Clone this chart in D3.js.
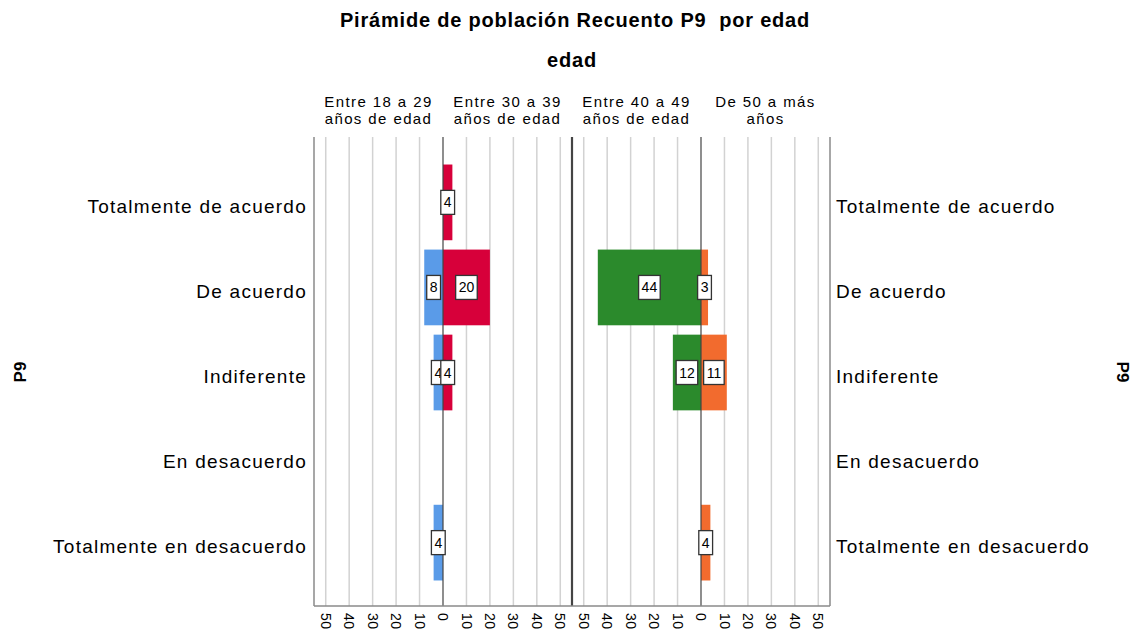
<!DOCTYPE html>
<html>
<head>
<meta charset="utf-8" />
<title>Pirámide de población</title>
<script src="https://cdn.jsdelivr.net/npm/d3@7"></script>
<style>
    body { margin: 0; background: #fff; }
    text { font-family: "Liberation Sans", Arial, sans-serif; fill: #000; }
</style>
</head>
<body>
<script>
    // categories (rows) and the four age groups
    var categories = ["Totalmente de acuerdo", "De acuerdo", "Indiferente", "En desacuerdo", "Totalmente en desacuerdo"]
    var groupLabels = [
        ["Entre 18 a 29", "años de edad"],
        ["Entre 30 a 39", "años de edad"],
        ["Entre 40 a 49", "años de edad"],
        ["De 50 a más", "años"]
    ]
    var v18a29 = [0, 8, 4, 0, 4]
    var v30a39 = [4, 20, 4, 0, 0]
    var v40a49 = [0, 44, 12, 0, 0]
    var v50mas = [0, 3, 11, 0, 4]
    var tickValues = [-50, -40, -30, -20, -10, 0, 10, 20, 30, 40, 50]

    var colors = ["#5a9be8", "#d7003a", "#2b8a2c", "#f26b2e"]

    var W = 1137, H = 634
    var plotTop = 137, plotBottom = 606

    var svg = d3.select("body").append("svg").attr("width", W).attr("height", H)

    var xLeft = d3.scaleLinear().domain([-55, 55]).range([314, 572])
    var xRight = d3.scaleLinear().domain([-55, 55]).range([572, 830])
    var y = d3.scaleBand().domain(categories).range([plotTop + 2, plotBottom]).paddingInner(0.11).paddingOuter(0.3)

    // title
    svg.append("text").attr("x", 575).attr("y", 27).attr("text-anchor", "middle")
        .attr("xml:space", "preserve")
        .style("font-size", "20px").style("font-weight", "bold").style("letter-spacing", "0.8px")
        .text("Pirámide de población Recuento P9  por edad")
    svg.append("text").attr("x", 572).attr("y", 67).attr("text-anchor", "middle")
        .style("font-size", "20px").style("font-weight", "bold").style("letter-spacing", "0.8px")
        .text("edad")

    // gridlines
    var grid = svg.append("g")
    ;[xLeft, xRight].forEach(function (sc) {
        grid.selectAll(null).data(tickValues.filter(d => d != 0)).enter().append("line")
            .attr("x1", d => sc(d)).attr("x2", d => sc(d))
            .attr("y1", plotTop).attr("y2", plotBottom)
            .style("stroke", "#d2d2d2").style("stroke-width", 1.5)
    })

    // bars
    var series = [
        { vals: v18a29, sc: xLeft, dir: -1, color: colors[0] },
        { vals: v30a39, sc: xLeft, dir: 1, color: colors[1] },
        { vals: v40a49, sc: xRight, dir: -1, color: colors[2] },
        { vals: v50mas, sc: xRight, dir: 1, color: colors[3] }
    ]
    series.forEach(function (s) {
        var rows = s.vals.map((v, i) => ({ cat: categories[i], v: v })).filter(d => d.v > 0)
        svg.append("g").selectAll("rect").data(rows).enter().append("rect")
            .attr("x", d => s.dir < 0 ? s.sc(-d.v) : s.sc(0))
            .attr("width", d => s.sc(d.v) - s.sc(0))
            .attr("y", d => y(d.cat))
            .attr("height", y.bandwidth())
            .style("fill", s.color)
    })

    // zero lines and frame
    svg.append("line").attr("x1", xLeft(0)).attr("x2", xLeft(0)).attr("y1", plotTop).attr("y2", plotBottom)
        .style("stroke", "#444").style("stroke-width", 1.2)
    svg.append("line").attr("x1", xRight(0)).attr("x2", xRight(0)).attr("y1", plotTop).attr("y2", plotBottom)
        .style("stroke", "#444").style("stroke-width", 1.2)
    svg.append("line").attr("x1", 314).attr("x2", 314).attr("y1", plotTop).attr("y2", plotBottom)
        .style("stroke", "#8a8a8a").style("stroke-width", 1.5)
    svg.append("line").attr("x1", 830).attr("x2", 830).attr("y1", plotTop).attr("y2", plotBottom)
        .style("stroke", "#8a8a8a").style("stroke-width", 1.5)
    svg.append("line").attr("x1", 572).attr("x2", 572).attr("y1", plotTop).attr("y2", plotBottom)
        .style("stroke", "#444").style("stroke-width", 2.2)
    svg.append("line").attr("x1", 314).attr("x2", 830).attr("y1", plotBottom).attr("y2", plotBottom)
        .style("stroke", "#8a8a8a").style("stroke-width", 1.5)

    // data labels
    series.forEach(function (s) {
        var rows = s.vals.map((v, i) => ({ cat: categories[i], v: v })).filter(d => d.v > 0)
        var g = svg.append("g").selectAll("g").data(rows).enter().append("g")
            .attr("transform", d => "translate(" + s.sc(s.dir * d.v / 2) + "," + (y(d.cat) + y.bandwidth() / 2) + ")")
        g.append("rect").style("fill", "#fff").style("stroke", "#333").style("stroke-width", 1.3)
        var t = g.append("text").attr("text-anchor", "middle").attr("dy", "0.36em")
            .style("font-size", "14px").text(d => d.v)
        t.each(function () {
            var w = this.getComputedTextLength() + 6
            d3.select(this.parentNode).select("rect")
                .attr("x", -w / 2).attr("width", w).attr("y", -12).attr("height", 24)
        })
    })

    // category labels
    svg.append("g").selectAll("text").data(categories).enter().append("text")
        .attr("x", 307).attr("y", d => y(d) + y.bandwidth() / 2 + 4).attr("dy", "0.35em")
        .attr("text-anchor", "end").style("font-size", "19px").style("letter-spacing", "1.25px").text(d => d)
    svg.append("g").selectAll("text").data(categories).enter().append("text")
        .attr("x", 836).attr("y", d => y(d) + y.bandwidth() / 2 + 4).attr("dy", "0.35em")
        .attr("text-anchor", "start").style("font-size", "19px").style("letter-spacing", "1.25px").text(d => d)

    // group headers
    var headerX = [(xLeft(-55) + xLeft(0)) / 2, (xLeft(0) + xLeft(55)) / 2, (xRight(-55) + xRight(0)) / 2, (xRight(0) + xRight(55)) / 2]
    groupLabels.forEach(function (lines, i) {
        lines.forEach(function (l, j) {
            svg.append("text").attr("x", headerX[i]).attr("y", 107 + j * 17)
                .attr("text-anchor", "middle").style("font-size", "15px").style("letter-spacing", "1.4px").text(l)
        })
    })

    // bottom tick labels, rotated
    ;[xLeft, xRight].forEach(function (sc) {
        svg.append("g").selectAll("text").data(tickValues).enter().append("text")
            .attr("transform", d => "translate(" + sc(d) + "," + 613 + ") rotate(90)")
            .attr("text-anchor", "start").attr("dy", "0.35em")
            .style("font-size", "14px").style("letter-spacing", "0.5px").text(d => Math.abs(d))
    })

    // P9 axis titles
    svg.append("text").attr("transform", "translate(26,372) rotate(-90)")
        .attr("text-anchor", "middle").style("font-size", "17px").style("font-weight", "bold").text("P9")
    svg.append("text").attr("transform", "translate(1117,372) rotate(90)")
        .attr("text-anchor", "middle").style("font-size", "17px").style("font-weight", "bold").text("P9")
</script>
</body>
</html>
